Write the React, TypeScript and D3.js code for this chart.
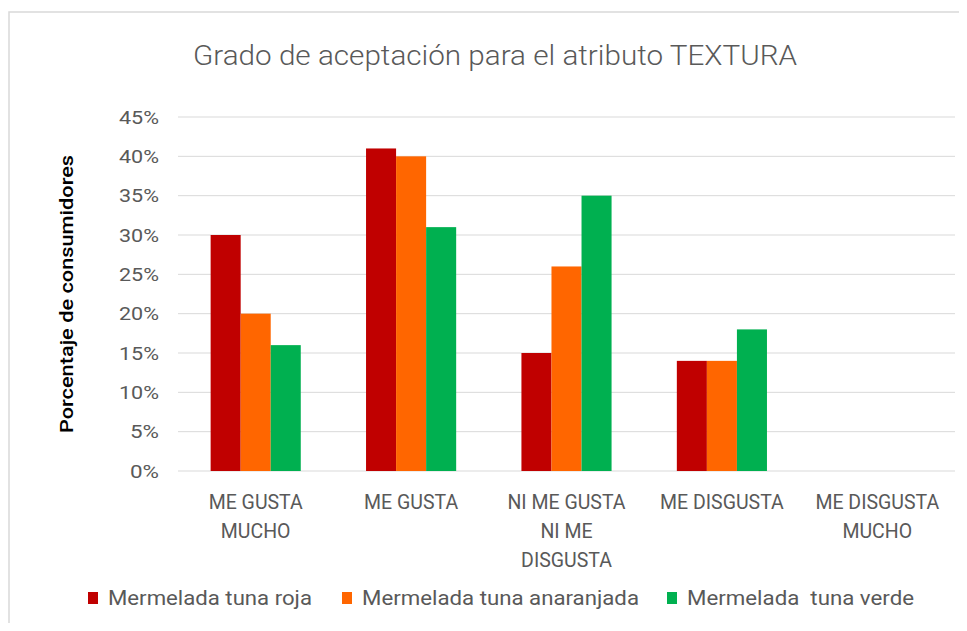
import React from "react";
import * as d3 from "d3";

const categories = [
  ["ME GUSTA", "MUCHO"],
  ["ME GUSTA"],
  ["NI ME GUSTA", "NI ME", "DISGUSTA"],
  ["ME DISGUSTA"],
  ["ME DISGUSTA", "MUCHO"],
];
const seriesNames = ["Mermelada tuna roja", "Mermelada tuna anaranjada", "Mermelada  tuna verde"];
const seriesColors = ["#C00000", "#FF6600", "#00B050"];
const roja = [30, 41, 15, 14, 0];
const anaranjada = [20, 40, 26, 14, 0];
const verde = [16, 31, 35, 18, 0];
const yTicks = [0, 5, 10, 15, 20, 25, 30, 35, 40, 45];
const title = "Grado de aceptación para el atributo TEXTURA";
const yTitle = "Porcentaje de consumidores";

const FONT = "Roboto, 'Open Sans', sans-serif";

export default function App() {
  const W = 967, H = 631;
  const left = 178, right = 955, top = 117, bottom = 471;
  const series = [roja, anaranjada, verde];
  const keys = categories.map((_, i) => String(i));
  const x0 = d3.scaleBand().domain(keys).range([left, right]).paddingInner(0.42).paddingOuter(0.21);
  const x1 = d3.scaleBand().domain(["0", "1", "2"]).range([0, x0.bandwidth()]);
  const y = d3.scaleLinear().domain([0, 45]).range([bottom, top]);
  const xc = d3.scaleBand().domain(keys).range([left, right]);

  const legendX = [88, 342, 667];
  const legendTextW = [204, 277, 227];

  return (
    <div style={{ margin: -8 }}>
      <svg width={W} height={H} style={{ display: "block", background: "#fff" }}>
        <rect x={9} y={12} width={W + 10} height={H - 13} fill="#fff" stroke="#d9d9d9" strokeWidth={1.5} />
        <text x={495} y={65} textAnchor="middle" fontFamily={FONT} fontSize={27} fontWeight={300} fill="#595959"
          textLength={604} lengthAdjust="spacingAndGlyphs">{title}</text>
        {yTicks.map((t) => (
          <g key={t}>
            <line x1={left} x2={right} y1={y(t)} y2={y(t)} stroke="#d9d9d9" strokeWidth={1} />
            <text x={159} y={y(t)} dy="0.35em" textAnchor="end" fontFamily={FONT} fontSize={19} fill="#595959"
              textLength={t < 10 ? 29 : 40} lengthAdjust="spacingAndGlyphs">{t + "%"}</text>
          </g>
        ))}
        {series.map((vals, s) =>
          vals.map((v, i) =>
            v > 0 ? (
              <rect key={s + "-" + i} x={(x0(String(i)) as number) + (x1(String(s)) as number)} y={y(v)}
                width={x1.bandwidth()} height={y(0) - y(v)} fill={seriesColors[s]} />
            ) : null
          )
        )}
        <text transform={`translate(73,294) rotate(-90)`} textAnchor="middle" fontFamily={FONT} fontSize={19}
          fontWeight={500} fill="#000" textLength={278} lengthAdjust="spacingAndGlyphs">{yTitle}</text>
        {categories.map((lines, i) => (
          <text key={i} textAnchor="middle" fontFamily={FONT} fontSize={19.5} fill="#595959">
            {lines.map((l, j) => (
              <tspan key={j} x={(xc(String(i)) as number) + xc.bandwidth() / 2} y={509 + j * 29}>{l}</tspan>
            ))}
          </text>
        ))}
        {seriesNames.map((n, s) => (
          <g key={n}>
            <rect x={legendX[s]} y={592} width={10} height={12} fill={seriesColors[s]} />
            <text x={legendX[s] + 20} y={605} fontFamily={FONT} fontSize={20} fill="#595959" style={{ whiteSpace: "pre" }}
              textLength={legendTextW[s]} lengthAdjust="spacingAndGlyphs">{n}</text>
          </g>
        ))}
      </svg>
    </div>
  );
}
